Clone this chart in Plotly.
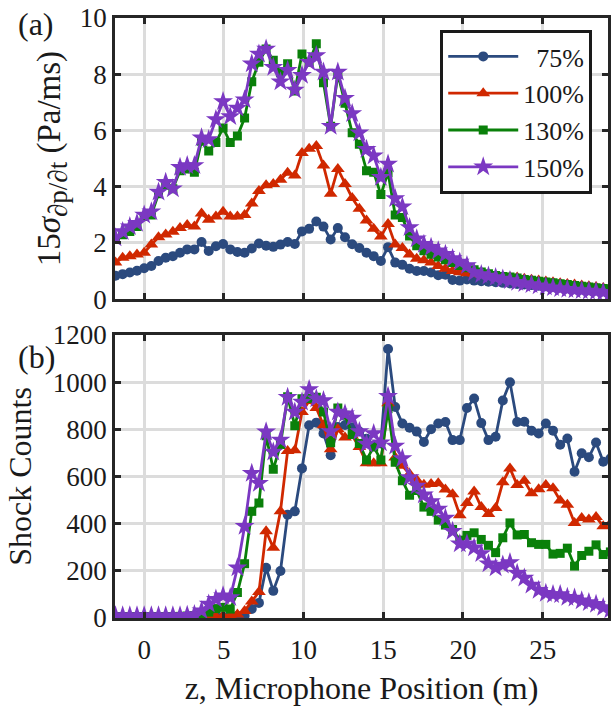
import plotly.graph_objects as go
from plotly.subplots import make_subplots

# microphone positions (m)
z = [-1.8, -1.35, -0.9, -0.45, 0.0, 0.45, 0.9, 1.35, 1.8, 2.25,
     2.7, 3.15, 3.6, 4.05, 4.5, 4.95, 5.4, 5.85, 6.3, 6.75,
     7.2, 7.65, 8.1, 8.55, 9.0, 9.45, 9.9, 10.35, 10.8, 11.25,
     11.7, 12.15, 12.6, 13.05, 13.5, 13.95, 14.4, 14.85, 15.3, 15.75,
     16.2, 16.65, 17.1, 17.55, 18.0, 18.45, 18.9, 19.35, 19.8, 20.25,
     20.7, 21.15, 21.6, 22.05, 22.5, 22.95, 23.4, 23.85, 24.3, 24.75,
     25.2, 25.65, 26.1, 26.55, 27.0, 27.45, 27.9, 28.35, 28.8, 29.25]

series_names = ["\u00a0\u00a075%", "100%", "130%", "150%"]

# (a) 15*sigma of dp/dt (Pa/ms)
sig_75 = [0.83, 0.89, 0.95, 1.01, 1.10, 1.18, 1.36, 1.47, 1.53, 1.65,
          1.77, 1.77, 2.03, 1.71, 1.88, 1.96, 1.77, 1.68, 1.65, 1.80,
          1.98, 1.90, 1.86, 1.94, 2.03, 1.96, 2.41, 2.50, 2.76, 2.58,
          2.12, 2.53, 2.20, 1.95, 1.82, 1.65, 1.53, 1.36, 1.85, 1.30,
          1.22, 1.08, 1.00, 1.00, 0.95, 0.85, 0.87, 0.68, 0.66, 0.70,
          0.66, 0.64, 0.62, 0.60, 0.58, 0.56, 0.54, 0.52, 0.50, 0.48,
          0.46, 0.44, 0.42, 0.41, 0.40, 0.38, 0.37, 0.36, 0.35, 0.34]
sig_100 = [1.30, 1.47, 1.53, 1.59, 1.65, 1.94, 2.20, 2.30, 2.40, 2.53,
           2.64, 2.58, 3.05, 2.82, 2.94, 3.11, 2.94, 2.94, 2.99, 3.40,
           3.85, 4.05, 4.10, 4.25, 4.50, 4.40, 5.20, 5.35, 5.45, 4.75,
           3.75, 4.63, 4.10, 3.60, 3.22, 2.80, 2.50, 2.23, 2.67, 1.94,
           1.82, 1.59, 1.44, 1.38, 1.30, 1.18, 1.08, 1.00, 0.96, 0.92,
           0.90, 0.88, 0.85, 0.83, 0.80, 0.78, 0.77, 0.73, 0.69, 0.66,
           0.63, 0.60, 0.57, 0.54, 0.52, 0.49, 0.46, 0.43, 0.40, 0.38]
sig_130 = [2.12, 2.29, 2.41, 2.58, 2.94, 2.99, 3.75, 4.05, 3.93, 4.57,
           4.63, 4.51, 5.62, 5.27, 5.57, 6.09, 5.57, 5.80, 6.44, 7.73,
           8.43, 8.90, 8.50, 8.05, 8.37, 7.40, 8.72, 8.43, 9.08, 7.70,
           6.15, 8.00, 6.97, 5.92, 5.51, 4.57, 4.51, 3.72, 4.50, 2.99,
           2.90, 2.25, 1.90, 1.72, 1.60, 1.50, 1.40, 1.30, 1.20, 1.12,
           1.05, 0.97, 0.90, 0.84, 0.81, 0.79, 0.75, 0.70, 0.67, 0.64,
           0.61, 0.58, 0.55, 0.52, 0.49, 0.46, 0.43, 0.41, 0.38, 0.36]
sig_150 = [2.18, 2.41, 2.58, 2.70, 2.99, 3.11, 3.81, 4.16, 3.93, 4.69,
           4.75, 4.75, 5.74, 5.68, 6.39, 7.03, 6.50, 6.80, 7.09, 8.37,
           8.72, 8.90, 8.25, 7.73, 8.14, 7.44, 7.96, 8.43, 8.67, 8.08,
           6.15, 8.08, 7.15, 6.60, 5.92, 5.33, 5.10, 4.34, 4.81, 3.58,
           3.29, 2.55, 2.15, 1.95, 1.85, 1.72, 1.60, 1.45, 1.32, 1.20,
           0.95, 0.88, 0.82, 0.77, 0.72, 0.66, 0.60, 0.56, 0.52, 0.48,
           0.44, 0.41, 0.38, 0.35, 0.33, 0.31, 0.29, 0.27, 0.25, 0.24]

# (b) shock counts
cnt_75 = [3, 3, 3, 3, 3, 3, 3, 3, 3, 3,
          3, 3, 4, 4, 5, 5, 6, 8, 10, 38,
          64, 213, 115, 199, 438, 452, 634, 817, 828, 782,
          690, 810, 818, 808, 790, 760, 730, 740, 1140, 894,
          824, 806, 790, 746, 800, 824, 831, 754, 754, 890,
          930, 826, 754, 768, 922, 999, 831, 832, 794, 782,
          824, 794, 734, 761, 620, 698, 681, 744, 662, 676]
cnt_100 = [4, 4, 4, 4, 4, 4, 4, 4, 4, 4,
           4, 4, 5, 5, 6, 8, 10, 15, 30, 70,
           110, 368, 298, 452, 708, 711, 873, 920, 890, 817,
           715, 800, 765, 772, 725, 656, 656, 656, 910, 680,
           645, 610, 585, 565, 568, 571, 545, 525, 436, 487,
           536, 470, 441, 466, 575, 634, 564, 582, 529, 546,
           564, 550, 498, 480, 403, 424, 417, 428, 389, 400]
cnt_130 = [6, 6, 6, 6, 6, 6, 6, 6, 6, 7,
           8, 10, 14, 25, 40, 45, 38, 108, 230, 452,
           487, 772, 630, 735, 938, 815, 929, 930, 936, 873,
           743, 890, 859, 778, 740, 670, 725, 670, 887, 660,
           582, 520, 540, 470, 452, 415, 394, 375, 330, 350,
           361, 333, 308, 277, 340, 403, 352, 354, 319, 312,
           312, 271, 274, 296, 220, 265, 283, 310, 269, 280]
cnt_150 = [10, 10, 10, 10, 10, 10, 10, 10, 10, 10,
           12, 15, 31, 59, 80, 94, 87, 213, 389, 613,
           571, 789, 704, 754, 936, 873, 915, 968, 929, 922,
           790, 873, 866, 848, 790, 737, 782, 743, 940, 729,
           676, 595, 560, 522, 494, 462, 424, 368, 315, 315,
           298, 273, 230, 213, 225, 235, 190, 170, 140, 118,
           105, 100, 100, 88, 85, 73, 66, 58, 45, 35]

sig_all = [sig_75, sig_100, sig_130, sig_150]
cnt_all = [cnt_75, cnt_100, cnt_130, cnt_150]

colors = ["#2B4A7E", "#D02800", "#0A800A", "#7B38C2"]
symbols = ["circle", "triangle-up", "square", "star"]
msizes = [10, 12, 9, 15]

FONT = "Liberation Serif"
AX = "#262626"
TXT = "#1a1a1a"

fig = make_subplots(rows=2, cols=1, shared_xaxes=True)

for k in range(4):
    fig.add_trace(go.Scatter(
        x=z, y=sig_all[k], mode="lines+markers", name=series_names[k],
        line=dict(color=colors[k], width=2.8),
        marker=dict(symbol=symbols[k], size=msizes[k], color=colors[k],
                    line=dict(width=0))), row=1, col=1)
for k in range(4):
    fig.add_trace(go.Scatter(
        x=z, y=cnt_all[k], mode="lines+markers", name=series_names[k],
        line=dict(color=colors[k], width=2.8),
        marker=dict(symbol=symbols[k], size=msizes[k], color=colors[k],
                    line=dict(width=0)),
        showlegend=False), row=2, col=1)

axis_common = dict(
    showline=True, linecolor=AX, linewidth=2.5, mirror="ticks",
    ticks="inside", ticklen=6, tickwidth=2.5, tickcolor=AX,
    showgrid=True, gridcolor="#dcdcdc", gridwidth=2.5, zeroline=False,
    tickfont=dict(family=FONT, size=27, color=TXT),
)

fig.update_xaxes(**axis_common)
fig.update_yaxes(**axis_common)

xticks = [0, 5, 10, 15, 20, 25]
fig.update_xaxes(range=[-1.83, 29.1], tickvals=xticks, showticklabels=False,
                 row=1, col=1)
fig.update_xaxes(range=[-1.83, 29.1], tickvals=xticks,
                 ticktext=[str(v) for v in xticks], showticklabels=True,
                 ticklabelstandoff=6,
                 title=dict(text="z, Microphone Position (m)",
                            font=dict(family=FONT, size=32, color=TXT),
                            standoff=18),
                 row=2, col=1)

fig.update_yaxes(range=[0, 10], tickvals=[0, 2, 4, 6, 8, 10],
                 domain=[0.5314, 1.0],
                 title=dict(text="15<i>σ</i><sub><span style=\"font-size:27px\">∂p/∂t</span></sub> (Pa/ms)",
                            font=dict(family=FONT, size=33, color=TXT),
                            standoff=10),
                 row=1, col=1)
fig.update_yaxes(range=[0, 1200], tickvals=[0, 200, 400, 600, 800, 1000, 1200],
                 domain=[0.0, 0.4719],
                 title=dict(text="Shock Counts",
                            font=dict(family=FONT, size=32, color=TXT),
                            standoff=12),
                 row=2, col=1)

fig.add_annotation(text="(a)", xref="paper", yref="paper", x=-0.16, y=0.99,
                   xanchor="center", yanchor="middle", showarrow=False,
                   font=dict(family=FONT, size=32, color=TXT))
fig.add_annotation(text="(b)", xref="paper", yref="paper", x=-0.16, y=0.435,
                   xanchor="center", yanchor="middle", showarrow=False,
                   font=dict(family=FONT, size=32, color=TXT))

fig.update_layout(
    width=611, height=706,
    margin=dict(l=115, r=0, t=18, b=82),
    plot_bgcolor="white", paper_bgcolor="white",
    font=dict(family=FONT, size=27, color=TXT),
    legend=dict(x=0.968, y=0.98, xanchor="right", yanchor="top",
                bordercolor=TXT, borderwidth=3, bgcolor="white",
                font=dict(family=FONT, size=26, color=TXT),
                itemwidth=70, tracegroupgap=0),
    showlegend=True,
)

fig.write_html("out.html", config={"displayModeBar": False})
